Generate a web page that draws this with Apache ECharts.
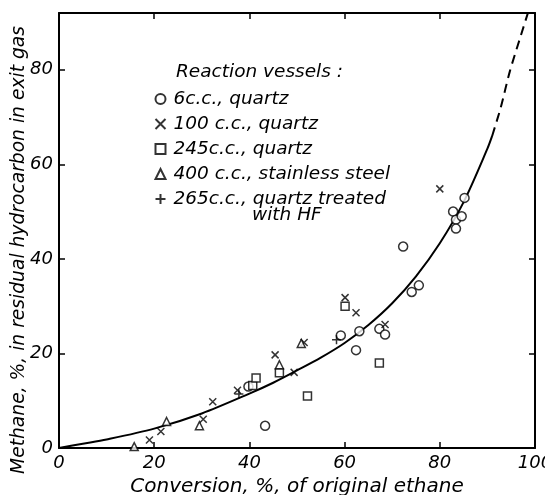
<!DOCTYPE html>
<html>
<head>
<meta charset="utf-8">
<script src="https://cdn.jsdelivr.net/npm/echarts@6/dist/echarts.min.js"></script>
<style>
  html, body { margin: 0; padding: 0; background: #fff; }
  #chart { width: 545px; height: 495px; }
</style>
</head>
<body>
<div id="chart"></div>
<script>
// reaction vessel series, [conversion %, methane %]
const quartz6 = [[39.8, 13.0], [43.3, 4.7], [59.2, 23.8], [62.4, 20.7], [63.1, 24.7],
  [67.3, 25.2], [68.5, 24.0], [72.3, 42.6], [74.1, 33.0], [75.6, 34.4],
  [82.8, 50.0], [83.4, 48.3], [83.4, 46.4], [84.6, 49.0], [85.2, 52.9]]
const quartz100 = [[19.0, 1.7], [21.4, 3.5], [30.3, 6.1], [32.3, 9.8], [37.5, 12.2],
  [45.4, 19.7], [49.4, 16.0], [51.5, 22.3], [60.1, 31.8], [62.4, 28.6],
  [68.5, 26.1], [80.0, 54.8]]
const quartz245 = [[40.7, 13.2], [41.4, 14.8], [46.3, 15.9], [52.2, 11.0], [60.1, 30.0], [67.3, 18.0]]
const steel400 = [[15.8, 0.3], [22.6, 5.6], [29.5, 4.7], [46.3, 17.6], [50.9, 22.1]]
const quartzHF265 = [[37.8, 11.4], [58.3, 22.9]]

// fitted curve
const curveSolid = [[0, 0], [5, 0.9], [10, 1.8], [20, 4.1], [30, 7.3], [40, 11.5], [45, 13.8],
  [50, 16.4], [55, 19.1], [60, 22.2], [65, 26.0], [70, 30.6], [75, 36.3], [80, 43.3],
  [85, 52.0], [90, 63.3], [91, 66.0]]
const curveDashed = [[91, 66.0], [92.8, 72.0], [94.7, 79.6], [96.8, 86.5], [98.6, 92.3]]

const xTicks = { min: 0, max: 100, interval: 20 }
const yTicks = { min: 0, max: 92, interval: 20 }

const font = 'DejaVu Sans'
const black = '#000'

const chart = echarts.init(document.getElementById('chart'), null, { renderer: 'canvas' })

function markerStyle(fill) {
  return {
    color: fill,
    borderColor: black,
    borderWidth: 1.5
  }
}

function axisCommon(extra, showMax) {
  return Object.assign({
    type: 'value',
    axisLine: { show: true, onZero: false, lineStyle: { color: black, width: 2 } },
    axisTick: { show: true, inside: true, length: 6, lineStyle: { color: black, width: 1.5 } },
    splitLine: { show: false },
    axisLabel: {
      color: black,
      fontFamily: font,
      fontStyle: 'italic',
      fontSize: 18,
      margin: 6,
      showMaxLabel: showMax
    }
  }, extra)
}

chart.setOption({
  animation: false,
  backgroundColor: '#fff',
  title: {
    text: 'Reaction vessels :',
    left: 171,
    top: 58,
    textStyle: {
      color: black,
      fontFamily: font,
      fontStyle: 'italic',
      fontWeight: 'normal',
      fontSize: 18.5
    }
  },
  legend: {
    left: 148,
    top: 84,
    orient: 'vertical',
    itemWidth: 10,
    itemHeight: 10,
    itemGap: 5,
    selectedMode: false,
    data: ['6c.c., quartz', '100 c.c., quartz', '245c.c., quartz',
      '400 c.c., stainless steel', '265c.c., quartz treated with HF'],
    formatter: function(name) {
      return name.replace(' with HF', '')
    },
    textStyle: {
      color: black,
      fontFamily: font,
      fontStyle: 'italic',
      fontSize: 18.5,
      lineHeight: 20,
      padding: [0, 0, 0, 3]
    }
  },
  graphic: [
    {
      type: 'text',
      left: 252,
      top: 206,
      style: {
        text: 'with HF',
        fill: black,
        font: 'italic 18.5px "' + font + '"'
      }
    },
    {
      type: 'text',
      x: 19,
      y: 250,
      rotation: Math.PI / 2,
      style: {
        text: 'Methane, %, in residual hydrocarbon in exit gas',
        fill: black,
        align: 'center',
        verticalAlign: 'middle',
        font: 'italic 18.7px "' + font + '"'
      }
    }
  ],
  grid: {
    left: 59,
    right: 10,
    top: 13,
    bottom: 47,
    containLabel: false,
    outerBoundsMode: 'none'
  },
  xAxis: [
    axisCommon(Object.assign({
      position: 'bottom',
      name: 'Conversion, %, of original ethane',
      nameLocation: 'middle',
      nameGap: 23,
      nameTextStyle: { color: black, fontFamily: font, fontStyle: 'italic', fontSize: 20 }
    }, xTicks), true),
    axisCommon(Object.assign({ position: 'top', axisLabel: { show: false } }, xTicks), false)
  ],
  yAxis: [
    axisCommon(Object.assign({ position: 'left' }, yTicks), false),
    axisCommon(Object.assign({ position: 'right', axisLabel: { show: false } }, yTicks), false)
  ],
  series: [
    {
      type: 'line',
      data: curveSolid,
      smooth: 0.3,
      showSymbol: false,
      silent: true,
      lineStyle: { color: black, width: 2 },
      z: 1
    },
    {
      type: 'line',
      data: curveDashed,
      smooth: 0.3,
      showSymbol: false,
      silent: true,
      lineStyle: { color: black, width: 2, type: [9, 6] },
      z: 1
    },
    {
      name: '6c.c., quartz',
      type: 'scatter',
      symbol: 'circle',
      symbolSize: 9,
      itemStyle: markerStyle('#fff'),
      data: quartz6
    },
    {
      name: '100 c.c., quartz',
      type: 'scatter',
      symbol: 'path://M0,0L10,10M10,0L0,10',
      symbolSize: 7,
      itemStyle: markerStyle('none'),
      data: quartz100
    },
    {
      name: '245c.c., quartz',
      type: 'scatter',
      symbol: 'rect',
      symbolSize: 8,
      itemStyle: markerStyle('#fff'),
      data: quartz245
    },
    {
      name: '400 c.c., stainless steel',
      type: 'scatter',
      symbol: 'triangle',
      symbolSize: 8,
      itemStyle: markerStyle('#fff'),
      data: steel400
    },
    {
      name: '265c.c., quartz treated with HF',
      type: 'scatter',
      symbol: 'path://M5,0L5,10M0,5L10,5',
      symbolSize: 9,
      itemStyle: markerStyle('none'),
      data: quartzHF265
    }
  ]
})
</script>
</body>
</html>
